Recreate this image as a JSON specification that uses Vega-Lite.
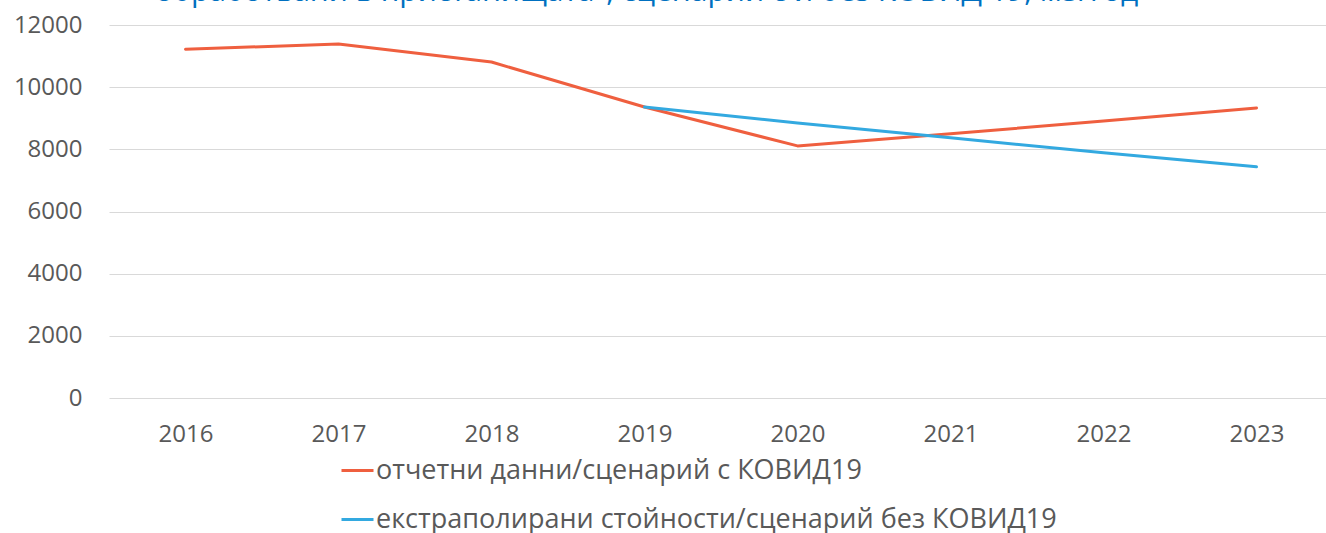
{
  "$schema": "https://vega.github.io/schema/vega-lite/v6.json",
  "autosize": "none",
  "width": 1224,
  "height": 373,
  "padding": {"left": 109, "top": 25, "right": 0, "bottom": 135},
  "background": "white",
  "title": {
    "text": "обработвани в пристанищата\", сценарий с и без КОВИД 19, м3/год",
    "anchor": "start",
    "frame": "group",
    "dx": 46,
    "offset": 6,
    "font": "Open Sans",
    "fontSize": 30,
    "fontWeight": "normal",
    "color": "#0070C0"
  },
  "config": {
    "view": {"stroke": null},
    "font": "Open Sans"
  },
  "data": {
    "values": [
      {"year": "2016", "series": "отчетни данни/сценарий с КОВИД19", "value": 11220},
      {"year": "2017", "series": "отчетни данни/сценарий с КОВИД19", "value": 11390},
      {"year": "2018", "series": "отчетни данни/сценарий с КОВИД19", "value": 10810},
      {"year": "2019", "series": "отчетни данни/сценарий с КОВИД19", "value": 9360},
      {"year": "2020", "series": "отчетни данни/сценарий с КОВИД19", "value": 8110},
      {"year": "2021", "series": "отчетни данни/сценарий с КОВИД19", "value": 8500},
      {"year": "2022", "series": "отчетни данни/сценарий с КОВИД19", "value": 8910},
      {"year": "2023", "series": "отчетни данни/сценарий с КОВИД19", "value": 9330},
      {"year": "2019", "series": "екстраполирани стойности/сценарий без КОВИД19", "value": 9360},
      {"year": "2020", "series": "екстраполирани стойности/сценарий без КОВИД19", "value": 8850},
      {"year": "2021", "series": "екстраполирани стойности/сценарий без КОВИД19", "value": 8370},
      {"year": "2022", "series": "екстраполирани стойности/сценарий без КОВИД19", "value": 7890},
      {"year": "2023", "series": "екстраполирани стойности/сценарий без КОВИД19", "value": 7440}
    ]
  },
  "mark": {"type": "line", "strokeWidth": 3, "strokeCap": "round", "strokeJoin": "round"},
  "encoding": {
    "x": {
      "field": "year",
      "type": "ordinal",
      "scale": {"type": "point", "padding": 0.5},
      "axis": {
        "title": null,
        "labelAngle": 0,
        "domain": false,
        "ticks": false,
        "grid": false,
        "labelFont": "Open Sans",
        "labelFontSize": 24,
        "labelColor": "#595959",
        "labelPadding": 24
      }
    },
    "y": {
      "field": "value",
      "type": "quantitative",
      "scale": {"domain": [0, 12000], "nice": false},
      "axis": {
        "title": null,
        "values": [0, 2000, 4000, 6000, 8000, 10000, 12000],
        "format": "d",
        "domain": false,
        "ticks": false,
        "grid": true,
        "gridColor": "#D9D9D9",
        "gridWidth": 1,
        "labelFont": "Open Sans",
        "labelFontSize": 24,
        "labelColor": "#595959",
        "labelPadding": 27
      }
    },
    "color": {
      "field": "series",
      "type": "nominal",
      "sort": ["отчетни данни/сценарий с КОВИД19", "екстраполирани стойности/сценарий без КОВИД19"],
      "scale": {
        "domain": ["отчетни данни/сценарий с КОВИД19", "екстраполирани стойности/сценарий без КОВИД19"],
        "range": ["#EF5F3F", "#33A9E0"]
      },
      "legend": {
        "title": null,
        "orient": "none",
        "direction": "vertical",
        "legendX": 231,
        "legendY": 428,
        "symbolType": "stroke",
        "symbolSize": 1024,
        "symbolStrokeWidth": 3,
        "labelFont": "Open Sans",
        "labelFontSize": 27,
        "labelColor": "#595959",
        "labelOffset": 1,
        "labelLimit": 1000,
        "rowPadding": 18
      }
    }
  }
}
